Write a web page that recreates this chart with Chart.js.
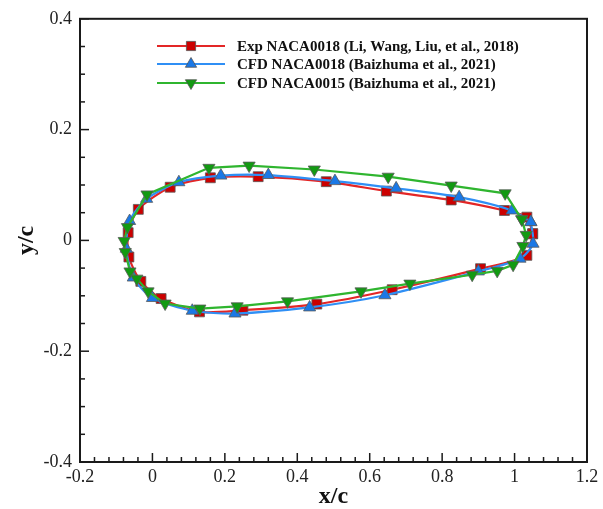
<!DOCTYPE html>
<html>
<head>
<meta charset="utf-8">
<script src="https://cdn.jsdelivr.net/npm/chart.js@4.4.1/dist/chart.umd.min.js"></script>
<style>
    html, body { margin: 0; padding: 0; background: #fff; }
    #wrap { width: 603px; height: 509px; }
</style>
</head>
<body>
<div id="wrap"><canvas id="profileChart" width="603" height="509"></canvas></div>
<script>
// Contours des profils (x/c, y/c), parcourus depuis le bord de fuite
const expX = [1.050, 1.034, 0.972, 0.825, 0.646, 0.480, 0.292, 0.160, 0.049, -0.039, -0.067, -0.065, -0.032, 0.024, 0.130, 0.250, 0.454, 0.662, 0.906, 1.034, 1.050];
const expY = [0.012, 0.042, 0.054, 0.073, 0.089, 0.106, 0.115, 0.113, 0.096, 0.056, 0.014, -0.030, -0.074, -0.105, -0.129, -0.126, -0.115, -0.089, -0.051, -0.027, 0.012];

const cfd18X = [1.045, 0.993, 0.847, 0.673, 0.504, 0.320, 0.189, 0.073, -0.016, -0.063, -0.072, -0.053, 0.000, 0.110, 0.228, 0.434, 0.642, 0.900, 1.015, 1.051, 1.045];
const cfd18Y = [0.033, 0.054, 0.078, 0.094, 0.107, 0.118, 0.117, 0.105, 0.075, 0.035, -0.015, -0.067, -0.104, -0.127, -0.132, -0.121, -0.099, -0.056, -0.033, -0.006, 0.033];

const cfd15X = [1.020, 0.974, 0.825, 0.651, 0.447, 0.267, 0.156, -0.015, -0.069, -0.078, -0.075, -0.062, -0.043, -0.012, 0.035, 0.131, 0.234, 0.373, 0.576, 0.711, 0.883, 0.952, 0.996, 1.023, 1.032, 1.020];
const cfd15Y = [0.038, 0.085, 0.099, 0.115, 0.128, 0.135, 0.131, 0.083, 0.024, -0.001, -0.021, -0.056, -0.069, -0.092, -0.114, -0.123, -0.119, -0.110, -0.092, -0.078, -0.062, -0.055, -0.044, -0.010, 0.010, 0.038];

const seriesLabels = [
    'Exp NACA0018 (Li, Wang, Liu, et al., 2018)',
    'CFD NACA0018 (Baizhuma et al., 2021)',
    'CFD NACA0015 (Baizhuma et al., 2021)'
];

const xTicks = [-0.2, 0, 0.2, 0.4, 0.6, 0.8, 1, 1.2];
const yTicks = [-0.4, -0.2, 0, 0.2, 0.4];

function toPoints(xs, ys) {
    return xs.map((x, i) => ({ x: x, y: ys[i] }));
}

const styles = [
    { line: '#e32626', fill: '#cc0000', shape: 'rect', radius: 7, rotation: 0 },
    { line: '#2f8ff5', fill: '#1a78e6', shape: 'triangle', radius: 7, rotation: 0 },
    { line: '#2fb52f', fill: '#129a12', shape: 'triangle', radius: 7, rotation: 180 }
];

// Cadre, graduations intérieures et légende
const framePlugin = {
    id: 'frame',
    afterDatasetsDraw(chart) {
        const ctx = chart.ctx;
        const area = chart.chartArea;
        const xs = chart.scales.x;
        const ys = chart.scales.y;
        ctx.save();
        ctx.strokeStyle = '#1a1a1a';
        ctx.lineWidth = 1.5;

        // graduations x (4 secondaires entre les principales)
        for (let i = 0; i < xTicks.length; i++) {
            const px = xs.getPixelForValue(xTicks[i]);
            ctx.beginPath();
            ctx.moveTo(px, area.bottom);
            ctx.lineTo(px, area.bottom - 9);
            ctx.stroke();
            if (i < xTicks.length - 1) {
                const step = (xTicks[i + 1] - xTicks[i]) / 5;
                for (let k = 1; k < 5; k++) {
                    const mx = xs.getPixelForValue(xTicks[i] + k * step);
                    ctx.beginPath();
                    ctx.moveTo(mx, area.bottom);
                    ctx.lineTo(mx, area.bottom - 5);
                    ctx.stroke();
                }
            }
        }
        // graduations y (3 secondaires)
        for (let i = 0; i < yTicks.length; i++) {
            const py = ys.getPixelForValue(yTicks[i]);
            ctx.beginPath();
            ctx.moveTo(area.left, py);
            ctx.lineTo(area.left + 9, py);
            ctx.stroke();
            if (i < yTicks.length - 1) {
                const step = (yTicks[i + 1] - yTicks[i]) / 4;
                for (let k = 1; k < 4; k++) {
                    const my = ys.getPixelForValue(yTicks[i] + k * step);
                    ctx.beginPath();
                    ctx.moveTo(area.left, my);
                    ctx.lineTo(area.left + 5, my);
                    ctx.stroke();
                }
            }
        }

        ctx.lineWidth = 2;
        ctx.strokeRect(area.left, area.top, area.right - area.left, area.bottom - area.top);

        // légende
        const lx0 = 157, lx1 = 225, mx = 191, tx = 237;
        const rows = [46, 64, 83];
        ctx.font = 'bold 15px "Liberation Serif", "Times New Roman", serif';
        ctx.textBaseline = 'middle';
        rows.forEach((ry, i) => {
            const st = styles[i];
            ctx.strokeStyle = st.line;
            ctx.lineWidth = 2;
            ctx.beginPath();
            ctx.moveTo(lx0, ry);
            ctx.lineTo(lx1, ry);
            ctx.stroke();
            ctx.fillStyle = st.fill;
            ctx.strokeStyle = '#555';
            ctx.lineWidth = 0.8;
            Chart.helpers.drawPoint(ctx, {
                pointStyle: st.shape, radius: 6.5, rotation: st.rotation, borderWidth: 0.8
            }, mx, ry);
            ctx.fillStyle = '#111';
            ctx.fillText(seriesLabels[i], tx, ry + 1);
        });
        ctx.restore();
    }
};

document.addEventListener('DOMContentLoaded', function() {
    const ctx = document.getElementById('profileChart').getContext('2d');
    const sets = [
        { data: toPoints(expX, expY), order: 3, tension: 0.25 },
        { data: toPoints(cfd18X, cfd18Y), order: 2, tension: 0.25 },
        { data: toPoints(cfd15X, cfd15Y), order: 1, tension: 0 }
    ];

    new Chart(ctx, {
        type: 'scatter',
        data: {
            datasets: sets.map((s, i) => ({
                label: seriesLabels[i],
                data: s.data,
                order: s.order,
                showLine: true,
                tension: s.tension,
                borderColor: styles[i].line,
                borderWidth: 2.2,
                pointStyle: styles[i].shape,
                pointRotation: styles[i].rotation,
                pointRadius: styles[i].radius,
                pointBackgroundColor: styles[i].fill,
                pointBorderColor: '#5a5a5a',
                pointBorderWidth: 0.8
            }))
        },
        options: {
            responsive: false,
            animation: false,
            layout: { padding: { left: 0, top: 15, right: 16, bottom: 0 } },
            plugins: {
                legend: { display: false },
                tooltip: { enabled: false }
            },
            scales: {
                x: {
                    type: 'linear',
                    min: -0.2,
                    max: 1.2,
                    afterBuildTicks: scale => { scale.ticks = xTicks.map(v => ({ value: v })); },
                    afterFit: scale => { scale.height = 47; },
                    grid: { display: false, drawTicks: false },
                    border: { display: false },
                    ticks: {
                        autoSkip: false,
                        maxRotation: 0,
                        padding: 4,
                        color: '#222',
                        font: { family: '"Liberation Serif", "Times New Roman", serif', size: 18 },
                        callback: v => String(Math.round(v * 10) / 10)
                    },
                    title: {
                        display: true,
                        text: 'x/c',
                        color: '#111',
                        padding: { top: 0, bottom: 0 },
                        font: { family: '"Liberation Serif", "Times New Roman", serif', size: 24, weight: 'bold', lineHeight: 1 }
                    }
                },
                y: {
                    type: 'linear',
                    min: -0.4,
                    max: 0.4,
                    afterBuildTicks: scale => { scale.ticks = yTicks.map(v => ({ value: v })); },
                    afterFit: scale => { scale.width = 80; },
                    grid: { display: false, drawTicks: false },
                    border: { display: false },
                    ticks: {
                        autoSkip: false,
                        padding: 8,
                        color: '#222',
                        font: { family: '"Liberation Serif", "Times New Roman", serif', size: 18 },
                        callback: v => String(Math.round(v * 10) / 10)
                    },
                    title: {
                        display: true,
                        text: 'y/c',
                        color: '#111',
                        padding: { top: 15, bottom: 0 },
                        font: { family: '"Liberation Serif", "Times New Roman", serif', size: 24, weight: 'bold', lineHeight: 1 }
                    }
                }
            }
        },
        plugins: [framePlugin]
    });
});
</script>
</body>
</html>
